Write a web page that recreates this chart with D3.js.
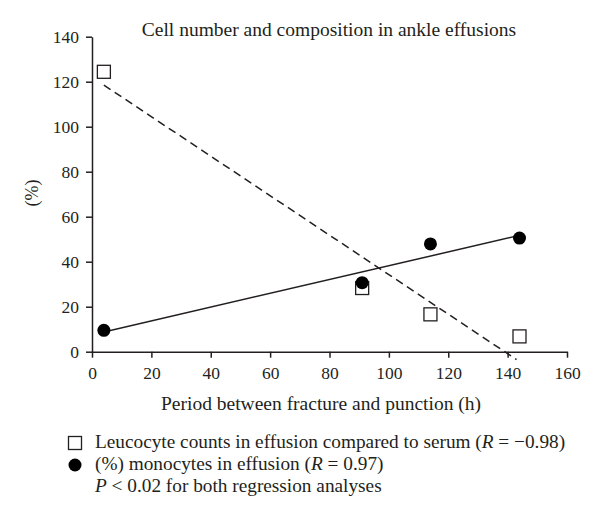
<!DOCTYPE html>
<html>
<head>
<meta charset="utf-8">
<script src="https://cdn.jsdelivr.net/npm/d3@7"></script>
<style>
  html, body { margin: 0; padding: 0; background: #fff; }
  svg { display: block; }
  text { font-family: "Liberation Serif", "DejaVu Serif", serif; fill: #231f20; }
</style>
</head>
<body>
<svg id="chart" width="600" height="520"></svg>
<script>
// ---- data ----
const hours = [4, 91, 114, 144];
const leucocyteRatio = [124.4, 28.3, 16.6, 6.8];
const monocytePct = [9.5, 30.7, 47.9, 50.5];
// regression line end points
const leucoFitX = [4, 143];
const leucoFitY = [118.5, -3.5];
const monoFitX = [4, 144];
const monoFitY = [8.8, 51.7];
const xTicks = [0, 20, 40, 60, 80, 100, 120, 140, 160];
const yTicks = [0, 20, 40, 60, 80, 100, 120, 140];
const titleText = "Cell number and composition in ankle effusions";
const xLabel = "Period between fracture and punction (h)";
const yLabel = "(%)";

const svg = d3.select("#chart");
const x = d3.scaleLinear().domain([0, 160]).range([92, 567]);
const y = d3.scaleLinear().domain([0, 140]).range([351.7, 36.7]);
const ink = "#231f20";

// axes
const xAxis = svg.append("g").attr("transform", `translate(0,${y(0)})`)
  .call(d3.axisBottom(x).tickValues(xTicks).tickSize(6).tickSizeOuter(0).tickPadding(9));
const yAxis = svg.append("g").attr("transform", `translate(${x(0)},0)`)
  .call(d3.axisLeft(y).tickValues(yTicks).tickSize(6).tickSizeOuter(0).tickPadding(7));
[xAxis, yAxis].forEach(g => {
  g.attr("font-size", null).attr("font-family", null);
  g.select(".domain").attr("stroke", ink).attr("stroke-width", 1.5);
  g.selectAll(".tick line").attr("stroke", ink).attr("stroke-width", 1.5);
  g.selectAll(".tick text").style("font-size", "17.5px")
    .style("font-family", "Liberation Serif, DejaVu Serif, serif").attr("fill", ink);
});

// regression lines
const line = d3.line().x(d => x(d[0])).y(d => y(d[1]));
svg.append("path").datum(d3.zip(leucoFitX, leucoFitY)).attr("d", line)
  .attr("fill", "none").attr("stroke", ink).attr("stroke-width", 1.5)
  .attr("stroke-dasharray", "8,5");
svg.append("path").datum(d3.zip(monoFitX, monoFitY)).attr("d", line)
  .attr("fill", "none").attr("stroke", ink).attr("stroke-width", 1.5);

// markers
const sq = 13;
svg.append("g").selectAll("rect").data(d3.zip(hours, leucocyteRatio)).join("rect")
  .attr("x", d => x(d[0]) - sq / 2).attr("y", d => y(d[1]) - sq / 2)
  .attr("width", sq).attr("height", sq)
  .attr("fill", "#fff").attr("stroke", ink).attr("stroke-width", 1.3);
svg.append("g").selectAll("circle").data(d3.zip(hours, monocytePct)).join("circle")
  .attr("cx", d => x(d[0])).attr("cy", d => y(d[1])).attr("r", 6.5)
  .attr("fill", "#000");

// title and labels
svg.append("text").attr("x", 329).attr("y", 36).attr("text-anchor", "middle")
  .style("font-size", "19.5px").text(titleText);
svg.append("text").attr("x", 321).attr("y", 410).attr("text-anchor", "middle")
  .style("font-size", "19.5px").text(xLabel);
svg.append("text").attr("transform", "translate(38,193) rotate(-90)")
  .attr("text-anchor", "middle").style("font-size", "18px").text(yLabel);

// legend
const lg = svg.append("g");
lg.append("rect").attr("x", 75 - 6.5).attr("y", 443 - 6.5).attr("width", 13).attr("height", 13)
  .attr("fill", "#fff").attr("stroke", ink).attr("stroke-width", 1.3);
lg.append("circle").attr("cx", 75).attr("cy", 465).attr("r", 6.5).attr("fill", "#000");
const t1 = lg.append("text").attr("x", 95).attr("y", 448).style("font-size", "19.3px");
t1.append("tspan").text("Leucocyte counts in effusion compared to serum (");
t1.append("tspan").attr("font-style", "italic").text("R");
t1.append("tspan").text(" = \u22120.98)");
const t2 = lg.append("text").attr("x", 95).attr("y", 470).style("font-size", "19.3px");
t2.append("tspan").text("(%) monocytes in effusion (");
t2.append("tspan").attr("font-style", "italic").text("R");
t2.append("tspan").text(" = 0.97)");
const t3 = lg.append("text").attr("x", 95).attr("y", 492).style("font-size", "19.3px");
t3.append("tspan").attr("font-style", "italic").text("P");
t3.append("tspan").text(" < 0.02 for both regression analyses");
</script>
</body>
</html>
